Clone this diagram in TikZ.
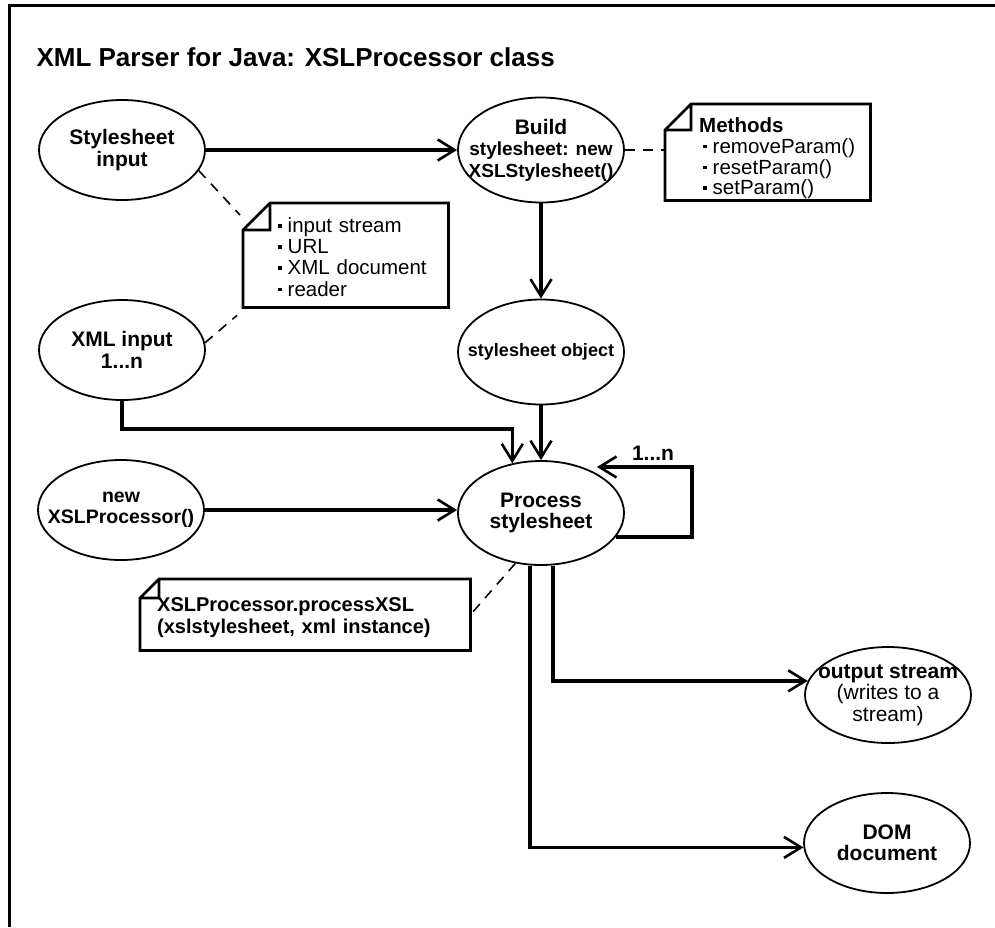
\documentclass[tikz,border=0pt]{standalone}
\usepackage{fontspec}
\setmainfont{Liberation Sans}
\usetikzlibrary{arrows.meta,calc,positioning,shapes.geometric}

\tikzset{
  proc/.style={ellipse,draw,line width=1.8pt,minimum width=166pt,minimum height=100pt,
    inner sep=-30pt,align=center,font=\bfseries\fontsize{21}{21.5}\selectfont},
  notebox/.style={anchor=north west,inner sep=0pt,align=left,font=\fontsize{20.5}{21}\selectfont},
  arr/.style={line width=3.5pt,line join=miter,-{Straight Barb[length=17pt,width=21pt,line width=2.6pt]}},
  dashln/.style={line width=1.6pt,dash pattern=on 10pt off 8pt},
  fold/.style={line width=2.8pt,line join=miter}
}
\newcommand{\nbul}{\rule[5pt]{3.5pt}{3.5pt}\hspace{6pt}}
\newcommand{\dogear}[2]{%
  \draw[fold] ($(#1.north west)+(0,-#2)$) -- ($(#1.north west)+(#2,0)$) -- (#1.north east)
    -- (#1.south east) -- (#1.south west) -- cycle
    ($(#1.north west)+(#2,0)$) |- ($(#1.north west)+(0,-#2)$);}

\begin{document}
\begin{tikzpicture}[x=1pt,y=1pt]
\useasboundingbox (0,0) rectangle (995,-927);
\draw[line width=3.5pt] (9.5,-927) -- (9.5,-5.5) -- (995,-5.5);
\node[anchor=west,font=\bfseries\fontsize{26}{28}\selectfont] (title) at (33,-57) {XML Parser for Java: XSLProcessor class};

% ellipses
\node[proc] (SI) at (122,-150) {Stylesheet\\input};
\node[proc,minimum height=105pt] (BU) at (541,-150) {Build\\{\fontsize{19}{19.5}\selectfont stylesheet: new}\\{\fontsize{19}{19.5}\selectfont XSLStylesheet()}};
\node[proc,minimum height=105pt,font=\bfseries\fontsize{18}{20}\selectfont] (SO) at (541,-352) {stylesheet object};
\node[proc] (XI) at (122,-350) {XML input\\1...n};
\node[proc,font=\bfseries\fontsize{19.5}{21}\selectfont] (NP) at (121,-510) {new\\XSLProcessor()};
\node[proc,minimum height=104pt] (PS) at (541,-513) {Process\\stylesheet};
\node[proc,minimum height=96pt] (OS) at (888,-695) {output stream\\{\mdseries (writes to a}\\{\mdseries stream)}};
\node[proc] (DD) at (887,-843) {DOM\\document};

% notes
\node[notebox,text width=205pt,minimum height=104pt] (n1) at (243,-203)
  {\vspace*{-10pt}\noindent\hspace*{35pt}\begin{tabular}{@{}l@{}}\nbul input stream\\ \nbul URL\\ \nbul XML document\\ \nbul reader\end{tabular}};
\node[notebox,text width=205pt,minimum height=96pt,font=\fontsize{20.5}{20}\selectfont] (n2) at (665,-104)
  {\vspace*{-14pt}\noindent\hspace*{34pt}\begin{tabular}{@{}l@{}}\textbf{Methods}\\ \hspace*{4pt}\nbul removeParam()\\ \hspace*{4pt}\nbul resetParam()\\ \hspace*{4pt}\nbul setParam()\end{tabular}};
\node[notebox,text width=330pt,minimum height=71pt,font=\bfseries\fontsize{20}{22}\selectfont] (n3) at (140,-579)
  {\vspace*{-6pt}\noindent\hspace*{17pt}\begin{tabular}{@{}l@{}}XSLProcessor.processXSL\\(xslstylesheet, xml instance)\end{tabular}};
\dogear{n1}{27}
\dogear{n2}{26}
\dogear{n3}{19}

% flow
\coordinate (loop) at (692,-467);
\coordinate (loopin) at (597,-467);
\draw[arr] (SI) -- (BU);
\draw[arr] (BU) -- (SO);
\draw[arr] (SO) -- (PS);
\draw[arr] (NP.east) -- (NP.east -| PS.west);
\draw[arr] (XI.south) -- ++(0,-28) -| (PS.120);
\draw[arr] (PS.-18) -| (loop) -- (loopin);
\node[font=\bfseries\fontsize{21}{22}\selectfont] (cnt) at (653,-453) {1...n};
\draw[arr] ([xshift=12pt]PS.south) |- (OS.170);
\draw[arr] ([xshift=-11pt]PS.south) |- (DD.183);

% dashed links to notes
\draw[dashln] (SI.-15) -- ($(n1.north west)+(-3,-12)$);
\draw[dashln] (XI.5) -- ($(n1.south west)+(-6,-8)$);
\draw[dashln] (BU.east) -- (BU.east -| n2.west);
\draw[dashln] (PS.-117) -- (n3.east);
\end{tikzpicture}
\end{document}
